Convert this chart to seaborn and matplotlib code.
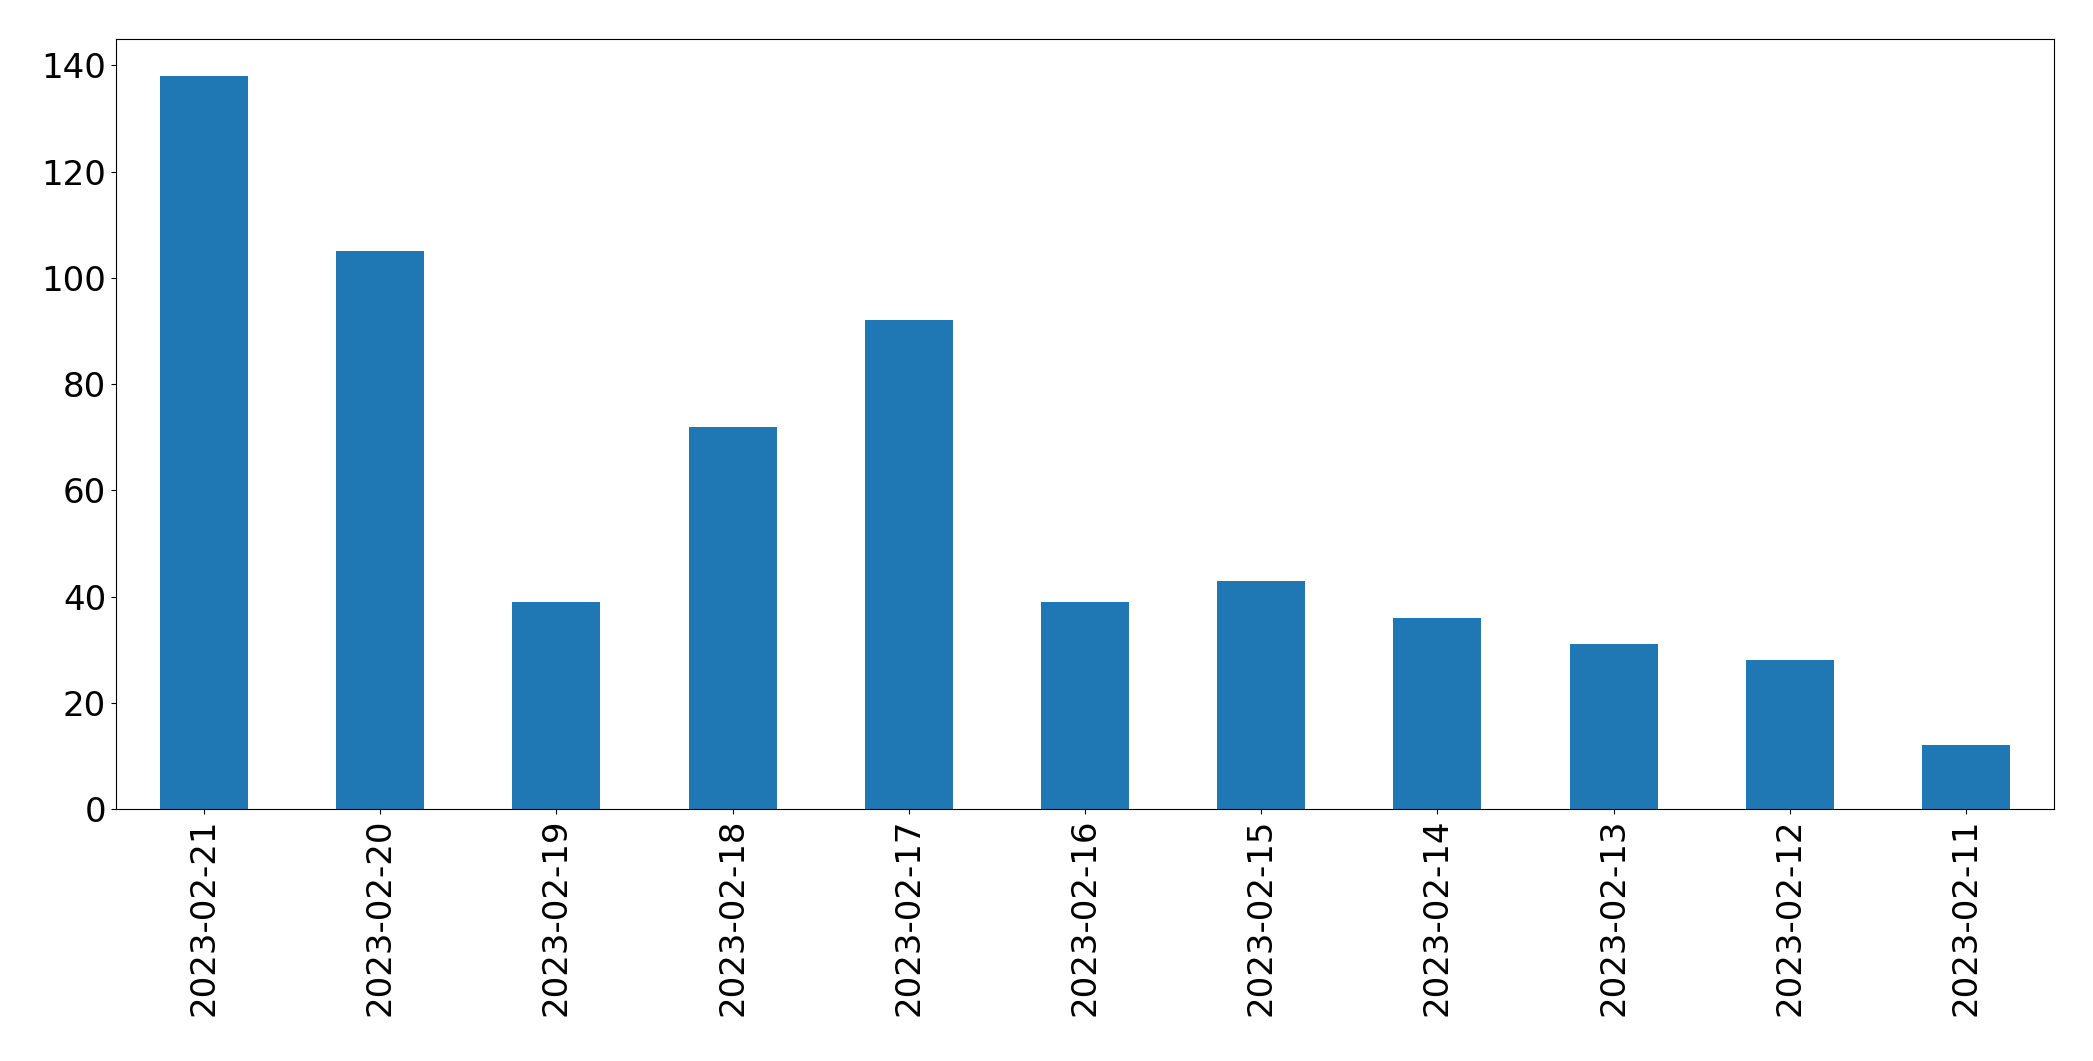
import matplotlib
matplotlib.use("Agg")
import matplotlib.pyplot as plt
import seaborn as sns
import pandas as pd

# daily counts, newest first (as in the reference)
dates = ['2023-02-21', '2023-02-20', '2023-02-19', '2023-02-18', '2023-02-17',
         '2023-02-16', '2023-02-15', '2023-02-14', '2023-02-13', '2023-02-12',
         '2023-02-11']
counts = [138, 105, 39, 72, 92, 39, 43, 36, 31, 28, 12]

df = pd.DataFrame({'date': dates, 'count': counts})

fig, ax = plt.subplots(figsize=(20.93, 10.61), dpi=100)
sns.barplot(data=df, x='date', y='count', color='#1f77b4', saturation=1,
            width=0.5, ax=ax)

ax.set_xlim(-0.5, len(dates) - 0.5)
ax.set_ylim(0, max(counts) * 1.05)
ax.set_xlabel('')
ax.set_ylabel('')
ax.tick_params(axis='both', labelsize=24.5)
plt.xticks(rotation=90)

fig.subplots_adjust(left=0.0554, right=0.9814, top=0.963, bottom=0.2375)
plt.savefig('out.png', dpi=100)
